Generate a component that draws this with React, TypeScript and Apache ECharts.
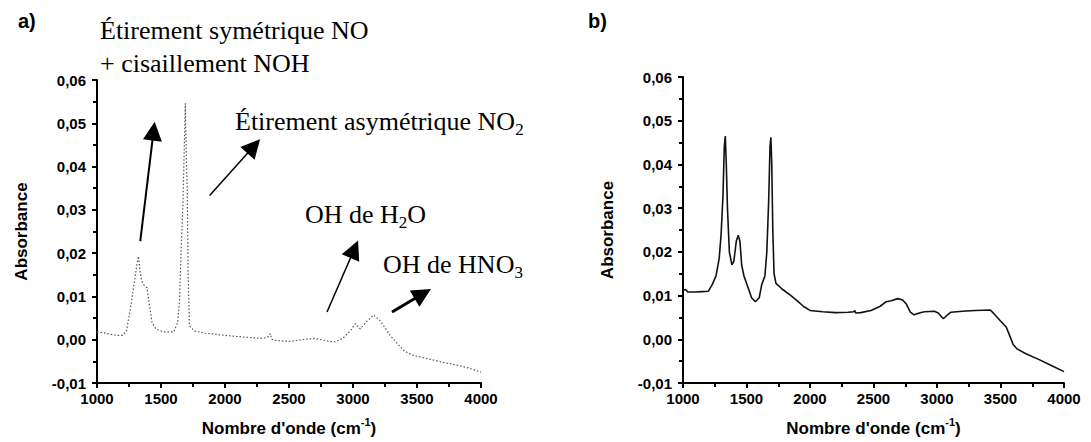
import React, { useEffect, useRef } from "react";
import * as echarts from "echarts";

// ---- Spectrum a) (grey dotted) ----
const waveA = [1000, 1050, 1100, 1150, 1200, 1230, 1260, 1290, 1315, 1325, 1335, 1350, 1370, 1390, 1410, 1430, 1460, 1520, 1600, 1630, 1645, 1655, 1670, 1680, 1690, 1698, 1705, 1712, 1722, 1760, 1850, 2000, 2150, 2300, 2340, 2354, 2365, 2400, 2500, 2600, 2700, 2800, 2860, 2920, 2980, 3018, 3057, 3104, 3160, 3213, 3290, 3350, 3400, 3470, 3600, 3700, 3800, 3900, 4000];
const absA = [0.0018, 0.0016, 0.0013, 0.001, 0.001, 0.002, 0.007, 0.013, 0.018, 0.0193, 0.016, 0.0135, 0.0125, 0.012, 0.008, 0.004, 0.0025, 0.0018, 0.0018, 0.004, 0.009, 0.019, 0.03, 0.042, 0.0546, 0.042, 0.035, 0.015, 0.0033, 0.002, 0.0015, 0.001, 0.0006, 0.0003, 0.0007, 0.0014, 0.0001, -0.0002, -0.0004, 0.0, 0.0003, -0.0003, -0.0005, 0.0003, 0.0021, 0.0037, 0.0025, 0.0041, 0.0057, 0.0044, 0.001, -0.001, -0.0026, -0.0036, -0.0045, -0.0052, -0.0058, -0.0065, -0.0075];

// ---- Spectrum b) (black solid) ----
const waveB = [1000, 1020, 1040, 1100, 1150, 1200, 1230, 1260, 1285, 1300, 1315, 1325, 1333, 1341, 1350, 1365, 1385, 1400, 1420, 1435, 1448, 1462, 1480, 1510, 1540, 1570, 1600, 1620, 1645, 1660, 1675, 1685, 1692, 1699, 1707, 1717, 1732, 1780, 1850, 1900, 1950, 2000, 2100, 2200, 2300, 2345, 2352, 2360, 2400, 2480, 2550, 2600, 2640, 2690, 2730, 2760, 2790, 2820, 2860, 2900, 2980, 3010, 3050, 3080, 3110, 3200, 3300, 3420, 3450, 3500, 3545, 3570, 3600, 3630, 3700, 3800, 3900, 4000];
const absB = [0.0112, 0.0114, 0.0108, 0.0108, 0.0109, 0.011, 0.0125, 0.0145, 0.0185, 0.024, 0.033, 0.044, 0.0465, 0.04, 0.03, 0.02, 0.017, 0.0178, 0.0225, 0.0238, 0.0225, 0.017, 0.0145, 0.012, 0.0095, 0.0086, 0.0095, 0.0125, 0.0145, 0.02, 0.032, 0.044, 0.0462, 0.04, 0.025, 0.015, 0.0128, 0.0115, 0.01, 0.0088, 0.0075, 0.0066, 0.0063, 0.0061, 0.0062, 0.0063, 0.0066, 0.006, 0.0061, 0.0066, 0.0075, 0.0086, 0.0088, 0.0093, 0.009, 0.008, 0.0062, 0.0056, 0.006, 0.0063, 0.0064, 0.006, 0.0047, 0.0055, 0.0062, 0.0064, 0.0066, 0.0067, 0.0058, 0.0042, 0.0028, 0.001, -0.0012, -0.0022, -0.0033, -0.0046, -0.006, -0.0074];

// ---- Axis ticks ----
const xMin = 1000, xMax = 4000, xStep = 500;
const yMin = -0.01, yMax = 0.06, yStep = 0.01;

// ---- Annotation arrows (data coordinates) ----
const arrowStarts = [[1338, 0.0228], [1880, 0.0333], [2797, 0.0064], [3305, 0.0064]];
const arrowEnds = [[1442, 0.0482], [2225, 0.0447], [3010, 0.0209], [3545, 0.0106]];
const arrowWidths = [2, 1.5, 1.5, 3];

const serif = '"Liberation Serif", "Times New Roman", serif';
const sans = '"Liberation Sans", Arial, sans-serif';

function fmtY(v: number) {
  const s = Math.abs(v) < 1e-9 ? "0.00" : v.toFixed(2);
  return s.replace(".", ",");
}
function fmtX(v: number) {
  return String(Math.round(v));
}

function xAxisCfg(gridIndex: number) {
  return {
    type: "value",
    gridIndex,
    min: xMin,
    max: xMax,
    interval: xStep,
    name: "{a|Nombre d'onde (cm}{s|-1}{a|)}",
    nameLocation: "middle",
    nameGap: 33,
    nameTextStyle: {
      rich: {
        a: { fontFamily: sans, fontWeight: "bold", fontSize: 17, color: "#000", lineHeight: 21, verticalAlign: "bottom" },
        s: { fontFamily: sans, fontWeight: "bold", fontSize: 11, color: "#000", lineHeight: 11, verticalAlign: "top" },
      },
    },
    axisLine: { show: true, onZero: false, lineStyle: { color: "#000", width: 2 } },
    axisTick: { show: true, inside: false, length: 5, lineStyle: { color: "#000", width: 2 } },
    minorTick: { show: true, splitNumber: 2, length: 4, lineStyle: { color: "#000", width: 2 } },
    splitLine: { show: false },
    axisLabel: { color: "#000", fontFamily: sans, fontWeight: "bold", fontSize: 15, margin: 8, formatter: fmtX },
  };
}

function yAxisCfg(gridIndex: number) {
  return {
    type: "value",
    gridIndex,
    min: yMin,
    max: yMax,
    interval: yStep,
    name: "Absorbance",
    nameLocation: "middle",
    nameGap: 67,
    nameTextStyle: { fontFamily: sans, fontWeight: "bold", fontSize: 17, color: "#000" },
    axisLine: { show: true, onZero: false, lineStyle: { color: "#000", width: 2 } },
    axisTick: { show: true, inside: false, length: 5, lineStyle: { color: "#000", width: 2 } },
    minorTick: { show: true, splitNumber: 2, length: 4, lineStyle: { color: "#000", width: 2 } },
    splitLine: { show: false },
    axisLabel: { color: "#000", fontFamily: sans, fontWeight: "bold", fontSize: 15, margin: 11, formatter: fmtY },
  };
}

const richSerif = {
  n: { fontFamily: serif, fontSize: 26, color: "#000", lineHeight: 26, verticalAlign: "top" },
  s: { fontFamily: serif, fontSize: 17, color: "#000", lineHeight: 42, verticalAlign: "middle" },
};

export default function App() {
  const ref = useRef<HTMLDivElement>(null);
  useEffect(() => {
    if (!ref.current) return;
    const chart = echarts.init(ref.current, undefined, { renderer: "svg" });
    const dataA = waveA.map((w, i) => [w, absA[i]]);
    const dataB = waveB.map((w, i) => [w, absB[i]]);
    const arrows = arrowStarts.map((s, i) => [
      { coord: s, lineStyle: { width: arrowWidths[i], color: "#000", type: "solid" } },
      { coord: arrowEnds[i], lineStyle: { width: arrowWidths[i], color: "#000", type: "solid" } },
    ]);
    chart.setOption({
      animation: false,
      backgroundColor: "#fff",
      grid: [
        { left: 97, top: 80, width: 384, height: 305 },
        { left: 683, top: 77, width: 381, height: 308 },
      ],
      xAxis: [xAxisCfg(0), xAxisCfg(1)],
      yAxis: [yAxisCfg(0), yAxisCfg(1)],
      series: [
        {
          type: "line",
          xAxisIndex: 0,
          yAxisIndex: 0,
          data: dataA,
          showSymbol: false,
          lineStyle: { color: "#555", width: 1.2, type: [1.5, 2] },
          markLine: {
            silent: true,
            symbol: ["none", "triangle"],
            symbolSize: 19,
            label: { show: false },
            lineStyle: { color: "#000", type: "solid" },
            itemStyle: { color: "#000" },
            data: arrows,
          },
        },
        {
          type: "line",
          xAxisIndex: 1,
          yAxisIndex: 1,
          data: dataB,
          showSymbol: false,
          lineStyle: { color: "#111", width: 1.6 },
        },
      ],
      graphic: [
        { type: "text", left: 18, top: 11, style: { text: "a)", font: `bold 20px ${sans}`, fill: "#000" } },
        { type: "text", left: 588, top: 11, style: { text: "b)", font: `bold 20px ${sans}`, fill: "#000" } },
        { type: "text", left: 100, top: 17, style: { text: "Étirement symétrique NO", font: `26px ${serif}`, fill: "#000" } },
        { type: "text", left: 100, top: 50, style: { text: "+ cisaillement NOH", font: `26px ${serif}`, fill: "#000" } },
        { type: "text", left: 235, top: 108, style: { text: "{n|Étirement asymétrique NO}{s|2}", rich: richSerif } },
        { type: "text", left: 305, top: 201, style: { text: "{n|OH de H}{s|2}{n|O}", rich: richSerif } },
        { type: "text", left: 383, top: 251, style: { text: "{n|OH de HNO}{s|3}", rich: richSerif } },
      ],
    });
    return () => chart.dispose();
  }, []);
  return (
    <div
      ref={ref}
      style={{ position: "fixed", left: 0, top: 0, width: 1091, height: 442, background: "#fff" }}
    />
  );
}
